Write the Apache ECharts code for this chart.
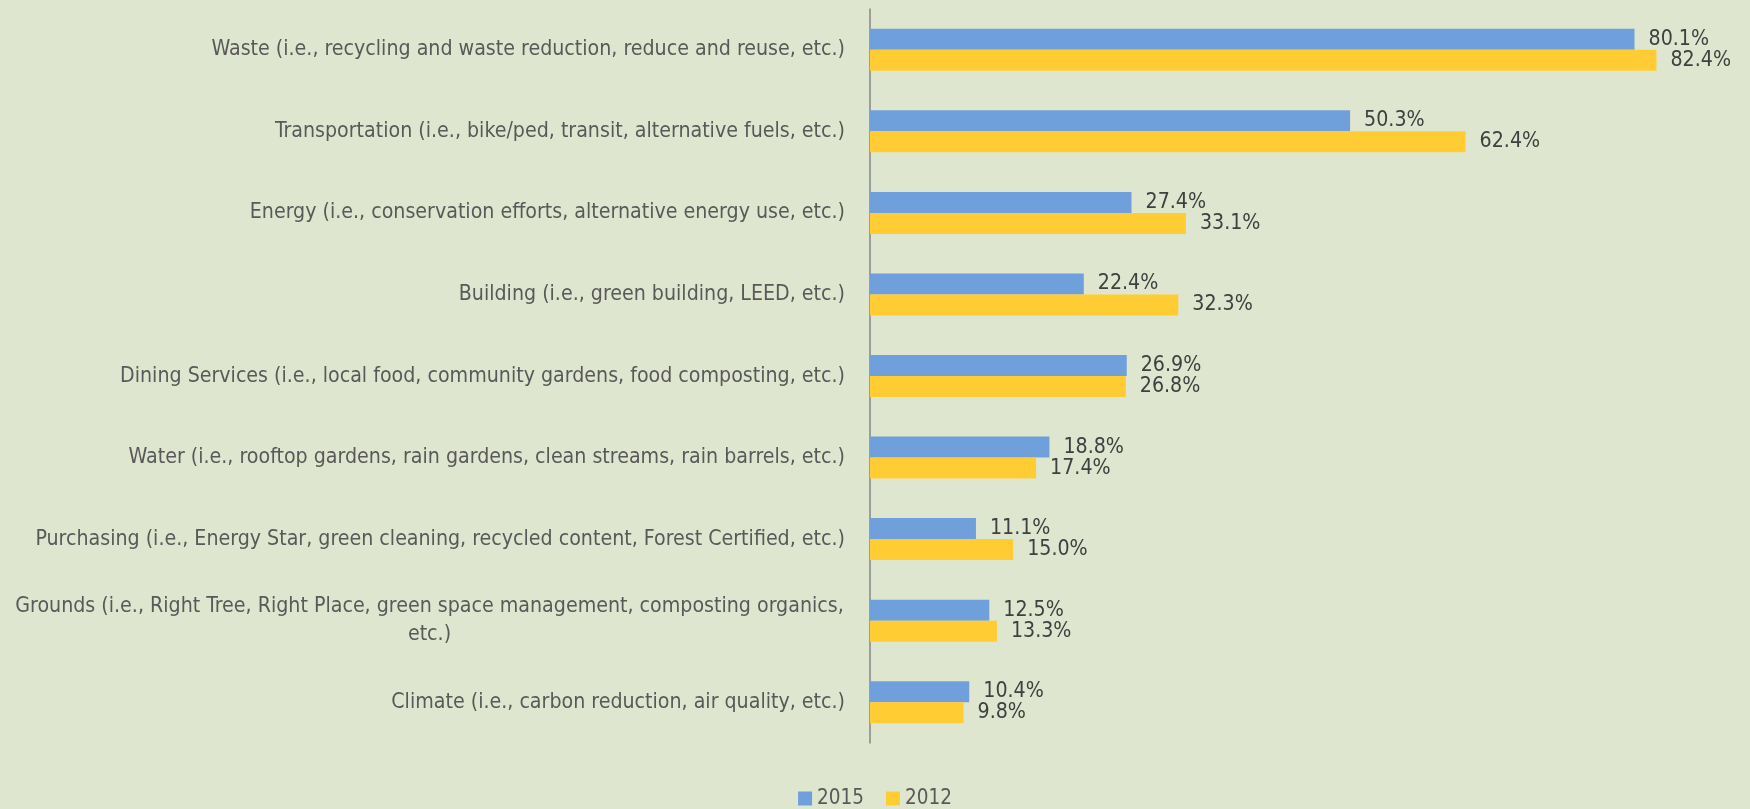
<!DOCTYPE html>
<html>
<head>
<meta charset="utf-8">
<script src="https://cdn.jsdelivr.net/npm/echarts@6/dist/echarts.min.js"></script>
<style>
html,body{margin:0;padding:0;background:#DFE6CF;}
#chart{width:1750px;height:809px;}
</style>
</head>
<body>
<div id="chart"></div>
<script>
const categories = [
  "Waste (i.e., recycling and waste reduction, reduce and reuse, etc.)",
  "Transportation (i.e., bike/ped, transit, alternative fuels, etc.)",
  "Energy (i.e., conservation efforts, alternative energy use, etc.)",
  "Building (i.e., green building, LEED, etc.)",
  "Dining Services (i.e., local food, community gardens, food composting, etc.)",
  "Water (i.e., rooftop gardens, rain gardens, clean streams, rain barrels, etc.)",
  "Purchasing (i.e., Energy Star, green cleaning, recycled content, Forest Certified, etc.)",
  "Grounds (i.e., Right Tree, Right Place, green space management, composting organics,\netc.)",
  "Climate (i.e., carbon reduction, air quality, etc.)"
];
const values2015 = [80.1, 50.3, 27.4, 22.4, 26.9, 18.8, 11.1, 12.5, 10.4];
const values2012 = [82.4, 62.4, 33.1, 32.3, 26.8, 17.4, 15.0, 13.3, 9.8];
const seriesNames = ["2015", "2012"];

const FONT = "'DejaVu Sans Condensed', sans-serif";
const LABEL_SIZE = 21.2;

const ctx = document.createElement('canvas').getContext('2d');
ctx.font = LABEL_SIZE + "px " + FONT;
function measure(t){ return Math.ceil(ctx.measureText(t).width) + 2; }

const chart = echarts.init(document.getElementById('chart'));
chart.setOption({
  backgroundColor: '#DFE6CF',
  animation: false,
  grid: { left: 870, right: 21, top: 9, bottom: 66, containLabel: false },
  legend: {
    top: 783, left: 'center',
    itemWidth: 14, itemHeight: 14, itemGap: 22,
    icon: 'rect',
    textStyle: { fontFamily: FONT, fontSize: 20.5, color: '#595959' },
    data: seriesNames
  },
  xAxis: {
    type: 'value', min: 0, max: 90,
    show: false,
    splitLine: { show: false }
  },
  yAxis: {
    type: 'category', inverse: true,
    data: categories,
    axisLine: { show: true, lineStyle: { color: '#868686', width: 1.5 } },
    axisTick: { show: false },
    axisLabel: {
      fontFamily: FONT, fontSize: LABEL_SIZE, color: '#595959', margin: 25,
      lineHeight: 28,
      formatter: function (v) {
        if (v.indexOf('\n') < 0) return v;
        return v.split('\n').map(l => '{c|' + l + '}').join('\n');
      },
      rich: {
        c: { fontFamily: FONT, fontSize: LABEL_SIZE, color: '#595959', align: 'center', lineHeight: 28,
             width: measure("Grounds (i.e., Right Tree, Right Place, green space management, composting organics,") }
      }
    }
  },
  series: [
    {
      name: seriesNames[0], type: 'bar', data: values2015,
      barWidth: 21, barGap: '0%',
      itemStyle: { color: '#6FA0DC' },
      label: { show: true, position: 'right', distance: 14, formatter: p => p.value.toFixed(1) + '%',
               fontFamily: FONT, fontSize: LABEL_SIZE, color: '#404040' }
    },
    {
      name: seriesNames[1], type: 'bar', data: values2012,
      barWidth: 21, barGap: '0%',
      itemStyle: { color: '#FFCD33' },
      label: { show: true, position: 'right', distance: 14, formatter: p => p.value.toFixed(1) + '%',
               fontFamily: FONT, fontSize: LABEL_SIZE, color: '#404040' }
    }
  ]
});
</script>
</body>
</html>
